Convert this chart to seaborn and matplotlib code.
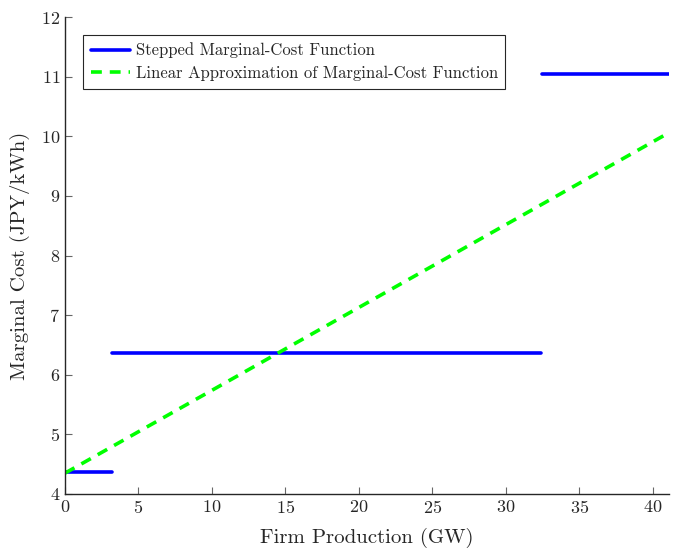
import matplotlib
matplotlib.use("Agg")
import matplotlib.pyplot as plt
import seaborn as sns
import pandas as pd

# Data
step_starts = [0.0, 3.2, 32.45]
step_ends = [3.2, 32.4, 41.1]
step_costs = [4.37, 6.37, 11.05]
linear_x = [0.0, 41.1]
linear_y = [4.35, 10.06]
x_ticks = [0, 5, 10, 15, 20, 25, 30, 35, 40]
y_ticks = [4, 5, 6, 7, 8, 9, 10, 11, 12]

sns.set_style("ticks")
plt.rcParams['font.family'] = ['serif']
plt.rcParams['font.serif'] = ['cmr10']
plt.rcParams['axes.formatter.use_mathtext'] = True
plt.rcParams['mathtext.fontset'] = 'cm'

fig = plt.figure(figsize=(6.82, 5.48), dpi=100)
ax = fig.add_axes([65/682, 54/548, (669-65)/682, (494-17)/548])

for i, (s, e, c) in enumerate(zip(step_starts, step_ends, step_costs)):
    df = pd.DataFrame({"x": [s, e], "y": [c, c]})
    sns.lineplot(data=df, x="x", y="y", ax=ax, color="#0000ff", linewidth=2.6,
                 label="Stepped Marginal-Cost Function" if i == 0 else None)

df_lin = pd.DataFrame({"x": linear_x, "y": linear_y})
sns.lineplot(data=df_lin, x="x", y="y", ax=ax, color="#00ff00", linewidth=2.6,
             linestyle=(0, (3, 2.2)), label="Linear Approximation of Marginal-Cost Function")

ax.set_xlim(0, 41.1)
ax.set_ylim(4, 12)
ax.set_xticks(x_ticks)
ax.set_yticks(y_ticks)
ax.tick_params(direction="in", length=5, labelsize=13, color="#666666")
for sp in ["top", "right"]:
    ax.spines[sp].set_visible(False)
for sp in ["left", "bottom"]:
    ax.spines[sp].set_color("#262626")
    ax.spines[sp].set_linewidth(1.0)
ax.set_xlabel("Firm Production (GW)", fontsize=15, labelpad=9)
ax.set_ylabel("Marginal Cost (JPY/kWh)", fontsize=15, labelpad=8)

leg = ax.legend(loc="upper left", bbox_to_anchor=(0.03, 0.962), fontsize=12,
                frameon=True, fancybox=False, framealpha=1, edgecolor="#262626",
                handlelength=2.35, borderpad=0.45, labelspacing=0.45, handletextpad=0.35,
                borderaxespad=0)
leg.get_frame().set_linewidth(0.8)

fig.savefig("out.png", dpi=100)
